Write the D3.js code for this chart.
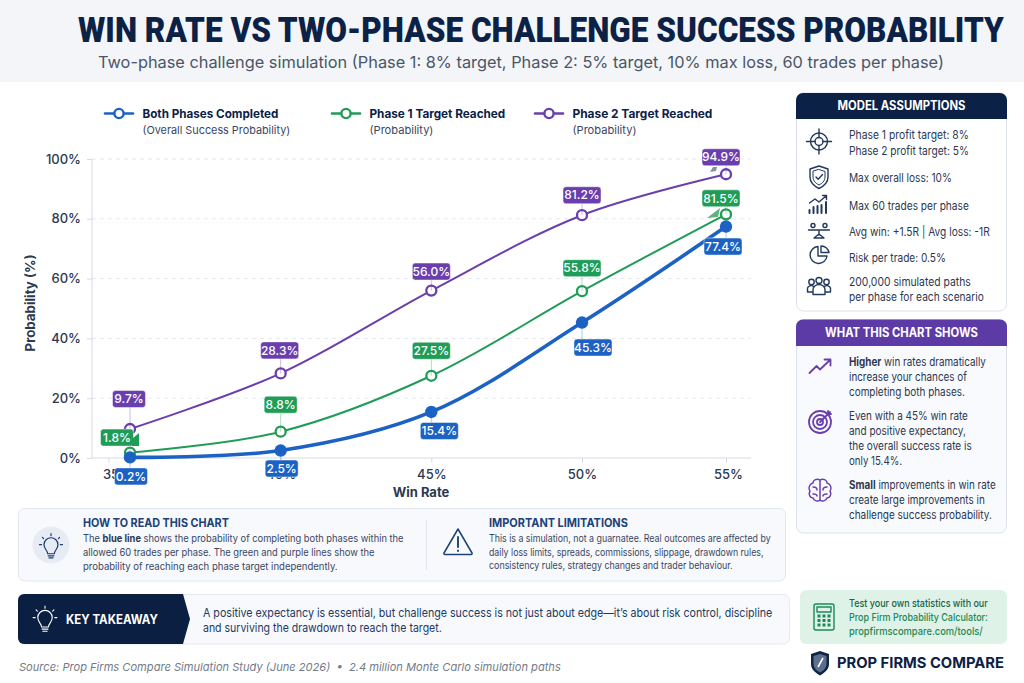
<!DOCTYPE html>
<html>
<head>
<meta charset="utf-8">
<style>
html,body{margin:0;padding:0;background:#fff;overflow:hidden}
svg{display:block;font-family:Inter,"Noto Sans",sans-serif}
</style>
<script src="https://cdn.jsdelivr.net/npm/d3@7"></script>
</head>
<body>
<script>
// Simulation results, in percent
const winRates = [35, 40, 45, 50, 55];
const bothPhases = [0.2, 2.5, 15.4, 45.3, 77.4];
const phaseOne = [1.8, 8.8, 27.5, 55.8, 81.5];
const phaseTwo = [9.7, 28.3, 56.0, 81.2, 94.9];
const probTicks = [0, 20, 40, 60, 80, 100];

// Value badge placement relative to each point: [dx, dy]
const bothOffsets = [[1, 19], [1, 18], [8, 19], [11, 25], [-3, 20]];
const oneOffsets = [[-13, -15], [0, -27], [0, -25], [0, -23], [-5, -16]];
const twoOffsets = [[-1, -30], [-1, -23], [0, -19], [0, -20], [-5, -17]];

const NAVY = "#0b2146", BLUE = "#1b62c4", GREEN = "#1f9d57", PURPLE = "#6a3fad";
const INK = "#2b3850", BODY = "#3a4660";

const svg = d3.select("body").append("svg").attr("width", 1024).attr("height", 683);

// Text helper: plain strings or [text, bold] segments, optional horizontal fit to a width
function txt(parent, x, y, content, o = {}) {
  const t = parent.append("text").attr("x", x).attr("y", y).attr("dy", "0.35em")
    .attr("font-size", o.size || 11).attr("font-weight", o.weight || 400)
    .attr("fill", o.fill || BODY).attr("text-anchor", o.anchor || "start");
  if (o.family) t.attr("font-family", o.family);
  if (o.italic) t.attr("font-style", "italic");
  if (o.preserve) t.style("white-space", "pre");
  if (typeof content === "string") t.text(content);
  else content.forEach(([s, b]) => t.append("tspan").attr("font-weight", b ? 700 : null).attr("fill", b ? (o.boldFill || INK) : null).text(s));
  if (o.w) {
    const k = o.w / t.node().getComputedTextLength();
    t.attr("transform", `translate(${x},0) scale(${k},1) translate(${-x},0)`);
  }
  return t;
}

// Header band
svg.append("rect").attr("width", 1024).attr("height", 82).attr("fill", "#f3f5f8");
txt(svg, 78, 29.5, "WIN RATE VS TWO-PHASE CHALLENGE SUCCESS PROBABILITY", {size: 35, weight: 900, fill: NAVY, w: 926, family: "Roboto"});
txt(svg, 98, 62, "Two-phase challenge simulation (Phase 1: 8% target, Phase 2: 5% target, 10% max loss, 60 trades per phase)", {size: 16.5, fill: "#4a5568", w: 847});

// Chart scales: the plotted positions are slightly tighter towards the last win rate
const x = d3.scaleLinear().domain([35, 50, 55]).range([130, 582, 726]);
const y = d3.scaleLinear().domain([0, 100]).range([458, 159]);
const plotLeft = 92, plotRight = 751;

const chart = svg.append("g");

// Horizontal dashed grid
chart.append("g").selectAll("line").data(probTicks.slice(1)).join("line")
  .attr("x1", plotLeft).attr("x2", plotRight)
  .attr("y1", d => y(d)).attr("y2", d => y(d))
  .attr("stroke", "#e5e8ef").attr("stroke-dasharray", "4 4");

// Axes
const yAxis = chart.append("g").attr("transform", `translate(${plotLeft},0)`)
  .call(d3.axisLeft(y).tickValues(probTicks).tickFormat(d => d + "%").tickSize(5).tickPadding(6));
const xAxis = chart.append("g").attr("transform", `translate(0,${y(0)})`)
  .call(d3.axisBottom(x).tickValues(winRates).tickFormat(d => d + "%").tickSize(5).tickPadding(7));
yAxis.select(".domain").attr("stroke", "#d5dae6").attr("d", `M0,${y(100)}V${y(0)}`);
xAxis.select(".domain").attr("stroke", "#d5dae6").attr("d", `M${plotLeft},0H${plotRight}`);
[yAxis, xAxis].forEach(a => {
  a.selectAll(".tick line").attr("stroke", "#d5dae6");
  a.selectAll(".tick text").attr("font-family", "Inter").attr("font-size", 13).attr("font-weight", 500).attr("fill", INK);
});
xAxis.selectAll(".tick text").attr("dx", d => d === 35 ? -13 : d === 55 ? 2 : 0);
xAxis.append("line").attr("x1", x(35) - 21).attr("x2", x(35) - 21).attr("y2", 5).attr("stroke", "#d5dae6");

txt(chart.append("g").attr("transform", "translate(30,303) rotate(-90)"), 0, 0, "Probability (%)", {size: 13, weight: 700, fill: INK, anchor: "middle", w: 97});
txt(chart, 421, 492, "Win Rate", {size: 13, weight: 700, fill: INK, anchor: "middle"});

// Series lines and markers
const series = [
  {values: phaseTwo, color: PURPLE, width: 2, offsets: twoOffsets, open: true},
  {values: phaseOne, color: GREEN, width: 2, offsets: oneOffsets, open: true},
  {values: bothPhases, color: BLUE, width: 3.6, offsets: bothOffsets, open: false}
];
const line = d3.line().x((d, i) => x(winRates[i])).y(d => y(d)).curve(d3.curveCatmullRom.alpha(0.5));
series.forEach(s => {
  chart.append("path").attr("d", line(s.values)).attr("fill", "none")
    .attr("stroke", s.color).attr("stroke-width", s.width).attr("stroke-linecap", "round");
});
series.forEach(s => {
  chart.append("g").selectAll("circle").data(s.values).join("circle")
    .attr("class", s.open ? "open" : "solid")
    .attr("cx", (d, i) => x(winRates[i])).attr("cy", d => y(d))
    .attr("r", s.open ? 5 : 6.2)
    .attr("fill", s.open ? "#fff" : s.color)
    .attr("stroke", s.open ? s.color : "none").attr("stroke-width", 2.3);
});
// The last Phase 1 marker sits in front of the overall success marker
chart.selectAll("circle.open").filter((d) => d === phaseOne[4]).each(function () {
  this.parentNode.parentNode.appendChild(this);
});

// Value badges
series.forEach(s => {
  s.values.forEach((v, i) => {
    const px = x(winRates[i]), py = y(v);
    const cx = px + s.offsets[i][0], cy = py + s.offsets[i][1];
    const label = v.toFixed(1) + "%";
    const bw = label.length > 4 ? 38 : 33, bh = 17;
    chart.append("line").attr("x1", px).attr("x2", px).attr("y1", cy).attr("y2", py)
      .attr("stroke", s.color).attr("stroke-opacity", 0.35);
    chart.append("rect").attr("x", cx - bw / 2).attr("y", cy - bh / 2).attr("width", bw).attr("height", bh)
      .attr("rx", 3).attr("fill", s.color).attr("stroke", "#fff").attr("stroke-opacity", 0.6).attr("stroke-width", 0.8);
    txt(chart, cx, cy, label, {size: 12, weight: 500, fill: "#fff", anchor: "middle"});
  });
});

// Small pointer fragments beside the crowded badges
const tail = (pts, fill) => chart.append("path").attr("d", d3.line()(pts) + "Z").attr("fill", fill);
tail([[x(35) + 2, 430], [x(35) + 2, 446], [x(35) + 9, 446], [x(35) + 9, 433], [x(35) + 3, 438]], GREEN);
tail([[x(55) - 6, 208], [x(55) - 19, 218], [x(55) - 8, 217]], "#5fb27e");
tail([[x(55) - 16, 172], [x(55) - 13, 167], [x(55) - 9, 167], [x(55) - 10, 171]], "#8d8f9e");

// Legend
const legendItems = [
  {x: 105, color: BLUE, fill: "#fff", title: "Both Phases Completed", sub: "(Overall Success Probability)", tw: 136, sw: 148},
  {x: 332, color: GREEN, fill: "#fff", title: "Phase 1 Target Reached", sub: "(Probability)", tw: 136, sw: 64},
  {x: 535, color: PURPLE, fill: "#fff", title: "Phase 2 Target Reached", sub: "(Probability)", tw: 140, sw: 64}
];
const legend = svg.append("g");
legendItems.forEach(l => {
  legend.append("line").attr("x1", l.x).attr("x2", l.x + 28).attr("y1", 113.5).attr("y2", 113.5)
    .attr("stroke", l.color).attr("stroke-width", 2.6).attr("stroke-linecap", "round");
  legend.append("circle").attr("cx", l.x + 14).attr("cy", 113.5).attr("r", 4.6)
    .attr("fill", l.fill).attr("stroke", l.color).attr("stroke-width", 2.4);
  txt(legend, l.x + 37.5, 113.5, l.title, {size: 12, weight: 700, fill: NAVY, w: l.tw});
  txt(legend, l.x + 37.5, 130, l.sub, {size: 11, fill: BODY, w: l.sw});
});

// Icon primitives
const ink = (g, color = "#22385c", w = 1.4) => g.attr("fill", "none").attr("stroke", color).attr("stroke-width", w).attr("stroke-linecap", "round").attr("stroke-linejoin", "round");
const icon = (cx, cy, color, w) => ink(svg.append("g").attr("transform", `translate(${cx},${cy})`), color, w);
const path = (g, d) => g.append("path").attr("d", d);
const circ = (g, cx, cy, r) => g.append("circle").attr("cx", cx).attr("cy", cy).attr("r", r);
function bulb(g) {
  path(g, "M-4,7 C-4,3 -8.5,1.5 -8.5,-4 A8.5,8.5 0 0 1 8.5,-4 C8.5,1.5 4,3 4,7 Z");
  path(g, "M-3.5,9.5H3.5M-2.5,12H2.5");
  path(g, "M-14,-4H-11.5M11.5,-4H14M-10.5,-13L-9,-11.5M10.5,-13L9,-11.5M0,-17.5V-15");
}

// Side panels with a coloured heading strip
function panel(yTop, yBottom, headY, color, title, titleW, fill) {
  svg.append("rect").attr("x", 796.5).attr("y", yTop).attr("width", 210).attr("height", yBottom - yTop)
    .attr("rx", 7).attr("fill", fill).attr("stroke", "#dde1ec");
  svg.append("path").attr("fill", color)
    .attr("d", `M796,${headY}V${yTop + 7}a7,7 0 0 1 7,-7H1000a7,7 0 0 1 7,7V${headY}Z`);
  txt(svg, 901.5, (yTop + headY) / 2, title, {size: 12.5, weight: 700, fill: "#fff", anchor: "middle", w: titleW});
}
panel(93, 311, 119, NAVY, "MODEL ASSUMPTIONS", 128, "#fff");
const assumptionLines = [
  ["Phase 1 profit target: 8%", 135, 120], ["Phase 2 profit target: 5%", 150.5, 120],
  ["Max overall loss: 10%", 177.5, 103], ["Max 60 trades per phase", 205.5, 120],
  ["Avg win: +1.5R | Avg loss: -1R", 232, 141], ["Risk per trade: 0.5%", 258, 97],
  ["200,000 simulated paths", 281.5, 122], ["per phase for each scenario", 296.5, 135]
];
assumptionLines.forEach(([s, ly, w]) => txt(svg, 849, ly, s, {size: 11.5, fill: INK, w}));

let g = icon(819, 141.5);
circ(g, 0, 0, 8.5); circ(g, 0, 0, 4); path(g, "M0,-12.5V-4M0,4V12.5M-12.5,0H-4M4,0H12.5");
g = icon(819, 177);
path(g, "M0,-11 L9,-8 V0 C9,6 4,9.5 0,11.5 C-4,9.5 -9,6 -9,0 V-8 Z");
path(g, "M0,-7.5 L6,-5.5 V0 C6,4 3,6.5 0,8 C-3,6.5 -6,4 -6,0 V-5.5 Z").attr("stroke-width", 1);
path(g, "M-3,0 L-0.8,2.3 L3.5,-2.5");
g = icon(819, 205);
path(g, "M-9.5,-2 L-4,-6 L0,-3 L7,-9 M3.5,-9.5 H7.5 V-5.5");
path(g, "M-9.5,8V5M-5.5,8V2M-1.5,8V1M2.5,8V0M7,8V-3").attr("stroke-width", 2);
g = icon(819, 231);
path(g, "M-10.5,-1H10.5M0,-1V4M-5,7H5L0,3Z");
circ(g, -6, -5.5, 2); circ(g, 6, -5.5, 2);
g = icon(819, 255);
path(g, "M-1,-8.5 A8.5,8.5 0 1 0 8,1 H-1 Z M2,-9 A8,8 0 0 1 10,-2.5 H2 Z");
g = icon(819, 286.5);
circ(g, 0, -6, 3); circ(g, -7.5, -4.5, 2.7); circ(g, 7.5, -4.5, 2.7);
path(g, "M-6,8 V3 A6,5 0 0 1 6,3 V8 Z M-7,5.5 H-11.5 V1.5 A4,3.5 0 0 1 -6,-0.5 M7,5.5 H11.5 V1.5 A4,3.5 0 0 0 6,-0.5");

// What this chart shows panel
panel(319.5, 533, 346, "#5d3ba6", "WHAT THIS CHART SHOWS", 153, "#f9fafd");
const insightLines = [
  [[["Higher", true], [" win rates dramatically", false]], 361.5, 137],
  [[["increase your chances of", false]], 377, 118],
  [[["completing both phases.", false]], 392, 116],
  [[["Even with a 45% win rate", false]], 415.5, 119],
  [[["and positive expectancy,", false]], 431, 117],
  [[["the overall success rate is", false]], 446, 123],
  [[["only 15.4%.", false]], 461, 53],
  [[["Small", true], [" improvements in win rate", false]], 484.5, 147],
  [[["create large improvements in", false]], 499.5, 136],
  [[["challenge success probability.", false]], 514.5, 143]
];
insightLines.forEach(([s, ly, w]) => txt(svg, 849, ly, s, {size: 11.5, fill: INK, w}));

g = icon(820, 367, PURPLE, 1.8);
path(g, "M-10.5,6 L-3.5,-1 L0,2.5 L10,-7 M4.5,-7.5 H10.5 V-1.5");
g = icon(820, 422, PURPLE, 1.8);
circ(g, 0, 0, 11); circ(g, 0, 0, 7); circ(g, 0, 0, 3);
path(g, "M0,0 L10,-10 M8,-11 V-8 M8,-8 H11");
g = icon(820, 490, PURPLE, 1.5);
path(g, "M0,-10 C-3,-12 -7,-10 -7,-7 C-11,-6 -12,-1 -10,1 C-12,4 -10,8 -7,8 C-6,11 -2,12 0,10 C2,12 6,11 7,8 C10,8 12,4 10,1 C12,-1 11,-6 7,-7 C7,-10 3,-12 0,-10 Z");
path(g, "M0,-10 V10 M-7,-3 C-5,-3 -3,-2 -3,0 M7,-3 C5,-3 3,-2 3,0 M-7,4 C-5,4 -3,4 -3,6 M7,4 C5,4 3,4 3,6");

// How to read / limitations card
svg.append("rect").attr("x", 18.5).attr("y", 508.5).attr("width", 767).attr("height", 72.5)
  .attr("rx", 6).attr("fill", "#f7f9fc").attr("stroke", "#e2e6f0");
svg.append("circle").attr("cx", 51).attr("cy", 545).attr("r", 18.5).attr("fill", "#e7ecf4");
g = icon(51, 547, "#1d3c6e", 1.5); bulb(g);
g.attr("transform", "translate(51,548) scale(0.82)");
svg.append("line").attr("x1", 426.5).attr("x2", 426.5).attr("y1", 520).attr("y2", 570).attr("stroke", "#dfe3ec");
g = icon(458, 543, "#1d4374", 1.5);
path(g, "M0,-14 L14,10 A1,1 0 0 1 13,11.5 H-13 A1,1 0 0 1 -14,10 Z");
path(g, "M0,-6 V4 M0,7.5 V8").attr("stroke-width", 1.9);

const HEAD = "#1c4279";
txt(svg, 83, 523, "HOW TO READ THIS CHART", {size: 12, weight: 700, fill: HEAD, w: 146});
const readLines = [
  [[["The ", false], ["blue line", true], [" shows the probability of completing both phases within the", false]], 538, 321],
  [[["allowed 60 trades per phase. The green and purple lines show the", false]], 552.5, 292],
  [[["probability of reaching each phase target independently.", false]], 566.5, 255]
];
readLines.forEach(([s, ly, w]) => txt(svg, 83, ly, s, {size: 10.5, fill: BODY, w}));
txt(svg, 489, 523, "IMPORTANT LIMITATIONS", {size: 12, weight: 700, fill: HEAD, w: 139});
const limitLines = [
  ["This is a simulation, not a guarnatee. Real outcomes are affected by", 538, 282],
  ["daily loss limits, spreads, commissions, slippage, drawdown rules,", 552, 275],
  ["consistency rules, strategy changes and trader behaviour.", 565.5, 244]
];
limitLines.forEach(([s, ly, w]) => txt(svg, 489, ly, s, {size: 10.5, fill: BODY, w}));

// Key takeaway band
svg.append("rect").attr("x", 18.5).attr("y", 594.5).attr("width", 771).attr("height", 49.5)
  .attr("rx", 6).attr("fill", "#f7f9fd").attr("stroke", "#e4e8f1");
svg.append("path").attr("fill", "#0a1f41")
  .attr("d", "M24,594H183L190,619L183,644H24a6,6 0 0 1 -6,-6V600a6,6 0 0 1 6,-6Z");
g = icon(45, 621, "#fff", 1.3); bulb(g);
g.attr("transform", "translate(45,621) scale(0.85)");
txt(svg, 66, 619.5, "KEY TAKEAWAY", {size: 13, weight: 700, fill: "#fff", w: 92});
txt(svg, 203, 612.5, "A positive expectancy is essential, but challenge success is not just about edge\u2014it\u2019s about risk control, discipline", {size: 12, fill: "#23395f", w: 570});
txt(svg, 203, 628, "and surviving the drawdown to reach the target.", {size: 12, fill: "#23395f", w: 239});

// Calculator call-out
svg.append("rect").attr("x", 800).attr("y", 590).attr("width", 207).attr("height", 54).attr("rx", 6).attr("fill", "#dff2e8");
g = icon(824, 617, "#1b8a55", 1.4);
path(g, "M-8,-13 H8 A2,2 0 0 1 10,-11 V11 A2,2 0 0 1 8,13 H-8 A2,2 0 0 1 -10,11 V-11 A2,2 0 0 1 -8,-13 Z");
g.append("rect").attr("x", -7).attr("y", -10).attr("width", 14).attr("height", 5);
[-1, 3.5, 8].forEach(ky => [-5, 0, 5].forEach(kx => {
  g.append("rect").attr("x", kx - 1.5).attr("y", ky - 1.5).attr("width", 3).attr("height", 3)
    .attr("fill", "#1b8a55").attr("stroke", "none");
}));
txt(svg, 849, 603, "Test your own statistics with our", {size: 11, weight: 500, fill: "#17634a", w: 139});
txt(svg, 849, 617, "Prop Firm Probability Calculator:", {size: 11, weight: 500, fill: "#1b8a55", w: 139});
txt(svg, 849, 631, "propfirmscompare.com/tools/", {size: 11, weight: 500, fill: "#1b8a55", w: 134});

// Brand mark
g = svg.append("g").attr("transform", "translate(820,663)");
path(g, "M0,-12 L9,-9 V1 C9,7 4,10 0,12.5 C-4,10 -9,7 -9,1 V-9 Z").attr("fill", "#0f2545");
path(g, "M0,-9 L6.5,-7 V1 C6.5,5 3,8 0,9.5 C-3,8 -6.5,5 -6.5,1 V-7 Z").attr("fill", "#5c6f8f");
path(g, "M-2,4 L3,-5").attr("stroke", "#fff").attr("stroke-width", 1.6);
txt(svg, 837, 663, "PROP FIRMS COMPARE", {size: 15, weight: 700, fill: NAVY, w: 167});

// Source line
txt(svg, 19, 667, "Source: Prop Firms Compare Simulation Study (June 2026)  \u2022  2.4 million Monte Carlo simulation paths", {size: 11, italic: true, fill: "#747b88", w: 542, preserve: true});
</script>
</body>
</html>
